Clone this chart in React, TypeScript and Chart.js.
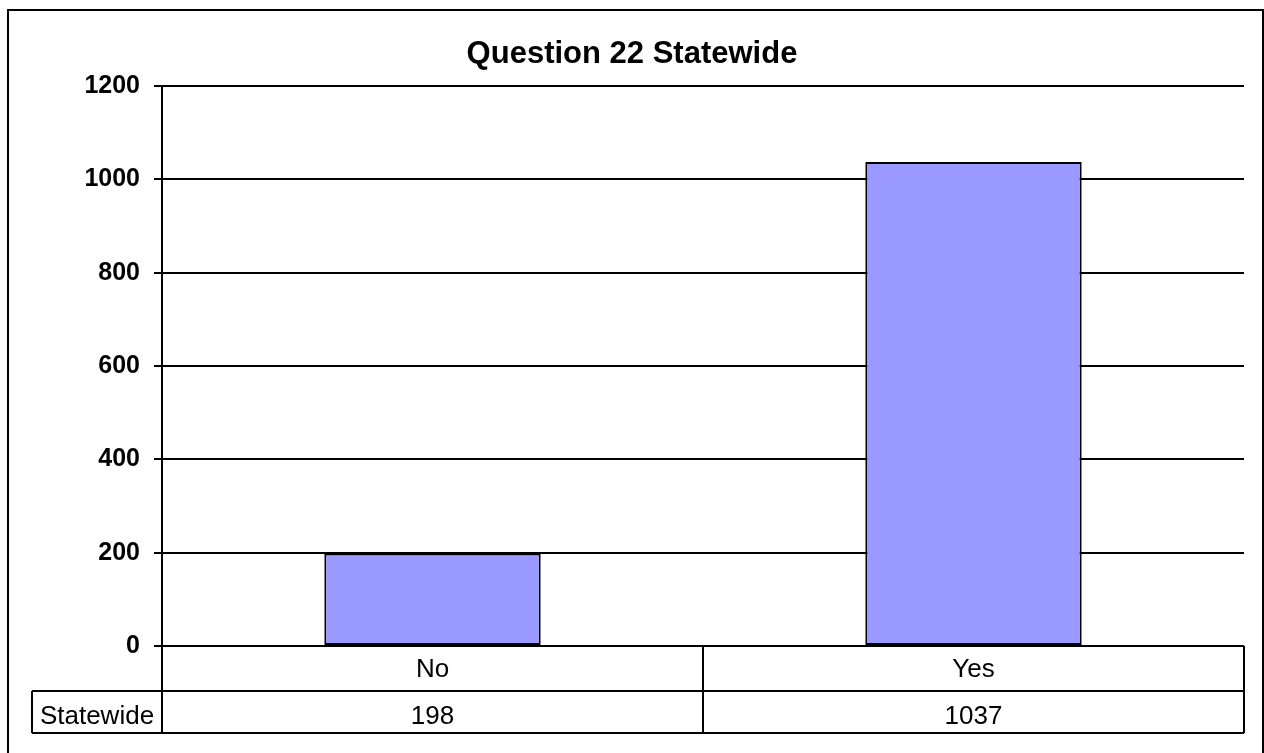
import React, { useEffect, useRef } from "react";
import { Chart, registerables } from "chart.js";

Chart.register(...registerables);

const chartTitle = "Question 22 Statewide";
const categories = ["No", "Yes"];
const seriesName = "Statewide";
const statewideValues = [198, 1037];
const yMin = 0;
const yMax = 1200;
const yStep = 200;

const FONT = "'Liberation Sans', Arial, Helvetica, sans-serif";

const tablePlugin = {
  id: "excelTable",
  afterDraw(chart: any) {
    const ctx = chart.ctx as CanvasRenderingContext2D;
    const { left, right, bottom } = chart.chartArea;
    const n = categories.length;
    const colW = (right - left) / n;
    const row1 = bottom + 45;
    const row2 = bottom + 87;
    const labelLeft = 32;

    ctx.save();
    ctx.strokeStyle = "#000";
    ctx.lineWidth = 2;
    // outer chart border
    ctx.strokeRect(8, 10, 1255, 800);

    // title
    ctx.fillStyle = "#000";
    ctx.font = `bold 31px ${FONT}`;
    ctx.textAlign = "center";
    ctx.textBaseline = "alphabetic";
    ctx.fillText(chartTitle, chart.width / 2, 63);

    // table lines
    ctx.beginPath();
    ctx.moveTo(left, bottom);
    ctx.lineTo(right, bottom);
    ctx.moveTo(labelLeft, row1);
    ctx.lineTo(right, row1);
    ctx.moveTo(labelLeft, row2);
    ctx.lineTo(right, row2);
    ctx.moveTo(labelLeft, row1);
    ctx.lineTo(labelLeft, row2);
    ctx.moveTo(left, bottom);
    ctx.lineTo(left, row2);
    for (let i = 1; i <= n; i++) {
      const x = left + i * colW;
      ctx.moveTo(x, bottom);
      ctx.lineTo(x, row2);
    }
    ctx.stroke();

    // table text
    ctx.font = `26px ${FONT}`;
    ctx.textAlign = "center";
    const xScale = chart.scales.x;
    categories.forEach((c, i) => {
      const cx = xScale.getPixelForValue(i);
      ctx.fillText(c, cx, bottom + 31);
      ctx.fillText(String(statewideValues[i]), cx, row1 + 33);
    });
    ctx.fillText(seriesName, (labelLeft + left) / 2, row1 + 33);
    ctx.restore();
  },
};

export default function App() {
  const canvasRef = useRef<HTMLCanvasElement | null>(null);

  useEffect(() => {
    if (!canvasRef.current) return;
    const chart = new Chart(canvasRef.current, {
      type: "bar",
      data: {
        labels: categories,
        datasets: [
          {
            label: seriesName,
            data: statewideValues,
            backgroundColor: "#9999FF",
            borderColor: "#000000",
            borderWidth: 2,
            borderSkipped: false,
            barPercentage: 0.4,
            categoryPercentage: 1,
          },
        ],
      },
      options: {
        responsive: false,
        animation: false,
        devicePixelRatio: 1,
        layout: { padding: { left: 0, right: 20, top: 86, bottom: 107 } },
        plugins: {
          legend: { display: false },
          title: { display: false },
          tooltip: { enabled: false },
        },
        scales: {
          x: { display: false },
          y: {
            min: yMin,
            max: yMax,
            ticks: {
              stepSize: yStep,
              color: "#000",
              padding: 14,
              font: { family: FONT, size: 25, weight: "bold" },
              callback: (v: any) => String(v),
            },
            grid: {
              color: "#000",
              lineWidth: 2,
              tickLength: 8,
              drawTicks: true,
            },
            border: { display: true, color: "#000", width: 2 },
            afterFit(scale: any) {
              scale.width = 162;
            },
          },
        },
      },
      plugins: [tablePlugin],
    });
    return () => chart.destroy();
  }, []);

  return (
    <div style={{ position: "absolute", left: 0, top: 0, width: 1264, height: 753, background: "#fff" }}>
      <canvas ref={canvasRef} width={1264} height={753} style={{ display: "block" }} />
    </div>
  );
}
